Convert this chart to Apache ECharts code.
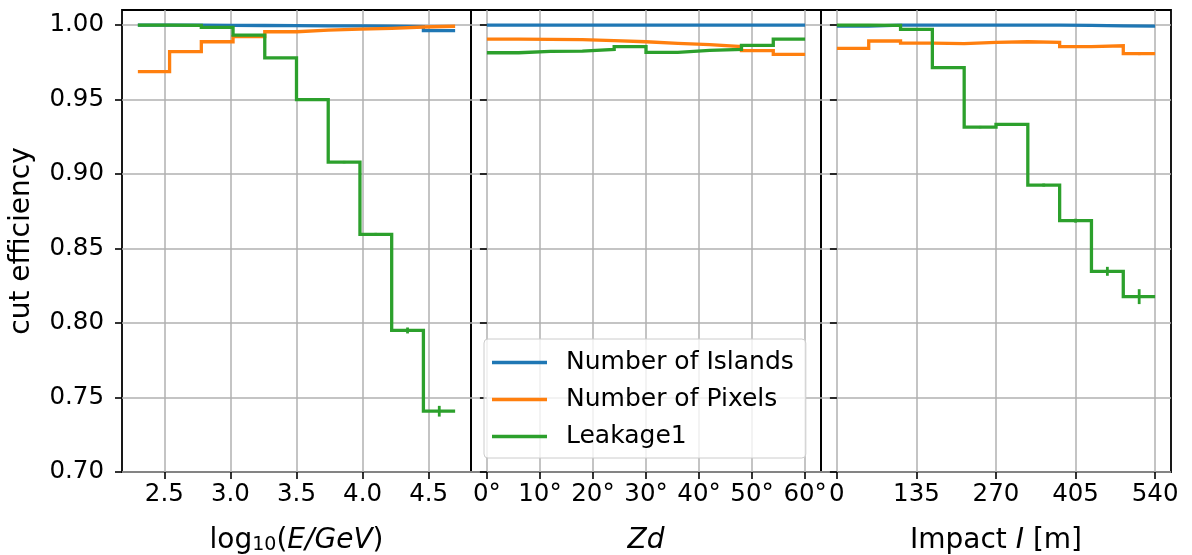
<!DOCTYPE html>
<html>
<head>
<meta charset="utf-8">
<script src="https://cdn.jsdelivr.net/npm/echarts@6/dist/echarts.min.js"></script>
<style>
  html, body { margin: 0; padding: 0; background: #fff; }
  #chart { width: 1192px; height: 555px; }
</style>
</head>
<body>
<div id="chart"></div>
<script>
// Bin edges of the three histograms
const energyEdges = [2.30, 2.54, 2.78, 3.02, 3.26, 3.50, 3.74, 3.98, 4.22, 4.46, 4.70];
const zdEdges = [0, 6, 12, 18, 24, 30, 36, 42, 48, 54, 60];
const impactEdges = [0, 54, 108, 162, 216, 270, 324, 378, 432, 486, 540];

// Cut efficiency per bin vs. log10(E/GeV)
const energyIslands = [1.0000, 0.9999, 0.9998, 0.9997, 0.9996, 0.9995, 0.9994, 0.9993, 0.9990, 0.9962];
const energyPixels = [0.9687, 0.9822, 0.9888, 0.9922, 0.9955, 0.9966, 0.9972, 0.9978, 0.9987, 0.9992];
const energyLeakage = [1.0000, 0.9998, 0.9984, 0.9933, 0.9780, 0.9500, 0.9080, 0.8595, 0.7950, 0.7408];
const energyLeakageErr = [0, 0, 0.0002, 0.0004, 0.0006, 0.0008, 0.0008, 0.0010, 0.0020, 0.0036];

// Cut efficiency per bin vs. zenith distance
const zdIslands = [1.0000, 0.9999, 0.9999, 0.9999, 0.9999, 0.9999, 0.9999, 0.9999, 0.9999, 0.9999];
const zdPixels = [0.9906, 0.9904, 0.9902, 0.9895, 0.9888, 0.9877, 0.9868, 0.9855, 0.9828, 0.9803];
const zdLeakage = [0.9814, 0.9823, 0.9825, 0.9837, 0.9855, 0.9817, 0.9830, 0.9837, 0.9864, 0.9906];

// Cut efficiency per bin vs. impact distance
const impactIslands = [0.9993, 0.9999, 0.9999, 0.9999, 0.9999, 0.9999, 0.9999, 0.9998, 0.9995, 0.9993];
const impactPixels = [0.9843, 0.9893, 0.9879, 0.9875, 0.9884, 0.9888, 0.9884, 0.9855, 0.9861, 0.9808];
const impactPixelsErr = [0, 0, 0, 0, 0, 0, 0, 0, 0.0004, 0.0010];
const impactLeakage = [1.0000, 0.9998, 0.9971, 0.9714, 0.9315, 0.9333, 0.8926, 0.8687, 0.8347, 0.8177];
const impactLeakageErr = [0, 0, 0.0003, 0.0005, 0.0008, 0.0008, 0.0010, 0.0013, 0.0030, 0.0050];

// Axis ticks
const yTicks = [0.70, 0.75, 0.80, 0.85, 0.90, 0.95, 1.00];
const energyTicks = [2.5, 3.0, 3.5, 4.0, 4.5];
const zdTicks = [0, 10, 20, 30, 40, 50, 60];
const impactTicks = [0, 135, 270, 405, 540];

const seriesNames = ['Number of Islands', 'Number of Pixels', 'Leakage1'];
const colors = ['#1f77b4', '#ff7f0e', '#2ca02c'];

const FONT = 'DejaVu Sans';
const TICK_FS = 24.5;
const LABEL_FS = 28;
const LINE_W = 3.3;

// histogram outline: one point per edge, last value repeated
function stepData(edges, vals) {
  return edges.map((e, i) => [e, vals[Math.min(i, vals.length - 1)]]);
}
function errData(edges, vals, errs) {
  return vals.map((v, i) => [(edges[i] + edges[i + 1]) / 2, v, errs[i]]);
}

const grids = [
  { left: 122, top: 10, width: 349, height: 462 },
  { left: 471, top: 10, width: 350, height: 462 },
  { left: 821, top: 10, width: 350, height: 462 }
].map(g => Object.assign(g, {
  show: true, borderColor: '#000', borderWidth: 1.8, backgroundColor: 'transparent',
  containLabel: false, outerBoundsMode: 'none'
}));

function xAxis(idx, min, max, ticks, fmt, name) {
  return {
    type: 'value', gridIndex: idx, min: min, max: max,
    axisLine: { show: false },
    axisTick: { show: true, length: 7, customValues: ticks, lineStyle: { color: '#000', width: 1.6 } },
    axisLabel: { customValues: ticks, formatter: fmt, margin: 10, color: '#000', fontFamily: FONT, fontSize: TICK_FS },
    splitLine: { show: true, lineStyle: { color: '#b0b0b0', width: 1.5 } },
    name: name.text, nameLocation: 'middle', nameGap: 55,
    nameTextStyle: Object.assign({ color: '#000', fontFamily: FONT, fontSize: LABEL_FS }, name.style || {})
  };
}
function yAxis(idx, showLabels) {
  const ax = {
    type: 'value', gridIndex: idx, min: 0.70, max: 1.0101,
    axisLine: { show: false },
    axisTick: { show: true, length: 7, customValues: yTicks, lineStyle: { color: '#000', width: 1.6 } },
    axisLabel: { show: showLabels, customValues: yTicks, formatter: v => v.toFixed(2), margin: 18, color: '#000', fontFamily: FONT, fontSize: TICK_FS },
    splitLine: { show: true, lineStyle: { color: '#b0b0b0', width: 1.5 } }
  };
  if (showLabels) {
    Object.assign(ax, {
      name: 'cut efficiency', nameLocation: 'middle', nameGap: 86, nameRotate: 90,
      nameTextStyle: { color: '#000', fontFamily: FONT, fontSize: LABEL_FS }
    });
  }
  return ax;
}

const richName = {
  r: { fontFamily: FONT, fontSize: LABEL_FS, color: '#000' },
  i: { fontFamily: FONT, fontSize: LABEL_FS, fontStyle: 'italic', color: '#000' },
  s: { fontFamily: FONT, fontSize: 19, color: '#000', verticalAlign: 'bottom' }
};

const xAxes = [
  xAxis(0, 2.18, 4.82, energyTicks, v => v.toFixed(1),
    { text: '{r|log}{s|10}{r|(}{i|E/GeV}{r|)}', style: { rich: richName } }),
  xAxis(1, -3, 63, zdTicks, v => v + '°',
    { text: '{i|Zd}', style: { rich: richName } }),
  xAxis(2, -27, 567, impactTicks, v => String(v),
    { text: '{r|Impact }{i|I}{r| [m]}', style: { rich: richName } })
];
const yAxes = [yAxis(0, true), yAxis(1, false), yAxis(2, false)];

const panels = [
  { edges: energyEdges, vals: [energyIslands, energyPixels, energyLeakage], errs: [null, null, energyLeakageErr] },
  { edges: zdEdges, vals: [zdIslands, zdPixels, zdLeakage], errs: [null, null, null] },
  { edges: impactEdges, vals: [impactIslands, impactPixels, impactLeakage], errs: [null, impactPixelsErr, impactLeakageErr] }
];

const series = [];
panels.forEach((p, gi) => {
  p.vals.forEach((vals, si) => {
    series.push({
      type: 'line', name: seriesNames[si], xAxisIndex: gi, yAxisIndex: gi,
      step: 'end', symbol: 'none', data: stepData(p.edges, vals),
      color: colors[si],
      lineStyle: { color: colors[si], width: LINE_W, join: 'miter' },
      z: 2 + si
    });
  });
  p.errs.forEach((errs, si) => {
    if (!errs) return;
    const col = colors[si];
    series.push({
      type: 'custom', xAxisIndex: gi, yAxisIndex: gi, z: 2 + si,
      data: errData(p.edges, p.vals[si], errs),
      renderItem: (params, api) => {
        const x = api.value(0), y = api.value(1), e = api.value(2);
        const a = api.coord([x, y - e]);
        const b = api.coord([x, y + e]);
        return {
          type: 'line',
          shape: { x1: a[0], y1: a[1], x2: b[0], y2: b[1] },
          style: { stroke: col, lineWidth: 2.8 }
        };
      }
    });
  });
});

const chart = echarts.init(document.getElementById('chart'), null, { renderer: 'canvas' });
chart.setOption({
  animation: false,
  backgroundColor: '#fff',
  grid: grids,
  xAxis: xAxes,
  yAxis: yAxes,
  legend: {
    data: seriesNames,
    orient: 'vertical',
    left: 484, top: 339,
    padding: [11, 12, 9, 8],
    itemGap: 12,
    itemWidth: 55, itemHeight: 3.5,
    icon: 'rect',
    backgroundColor: 'rgba(255,255,255,0.8)',
    borderColor: '#cccccc', borderWidth: 1, borderRadius: 4,
    formatter: '{t|{name}}',
    textStyle: {
      rich: { t: { fontFamily: FONT, fontSize: 25, color: '#000', lineHeight: 28, padding: [0, 0, 0, 14] } }
    },
    z: 10
  },
  series: series
});
</script>
</body>
</html>
